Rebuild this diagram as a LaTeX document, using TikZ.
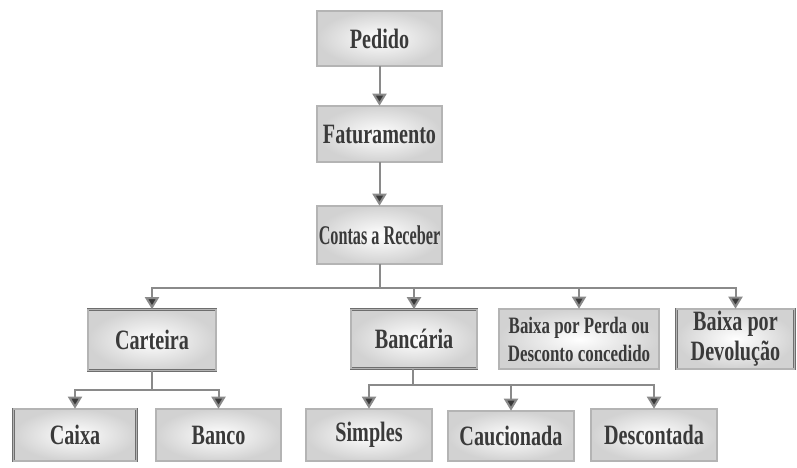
\documentclass[tikz,border=0pt]{standalone}
\usepackage{fontspec}
\setmainfont{Liberation Serif}[FakeStretch=0.72]
\newfontfamily\narrowfont{Liberation Serif}[FakeStretch=0.6]
\usetikzlibrary{arrows.meta,positioning}
\definecolor{frame}{HTML}{6E6E6E}
\definecolor{band}{HTML}{B4B4B4}
\definecolor{shade}{HTML}{D2D2D2}
\definecolor{ink}{HTML}{3A3A3A}
\definecolor{wire}{HTML}{8A8A8A}

\begin{document}
\begin{tikzpicture}[x=1pt,y=-1pt,
  box/.style={draw=frame,double=band,double distance=1.4pt,line width=.6pt,shading=radial,inner color=white,outer color=shade,text=ink,font=\bfseries\fontsize{28}{30}\selectfont,align=center,inner sep=0pt},
  link/.style={wire,line width=2pt},
  arr/.style={link,-{Triangle[width=14pt,length=12pt,fill=ink]}}]
\useasboundingbox (0,0) rectangle (797,467);
% first column
\node[box,minimum width=125pt,minimum height=55pt] (pedido) at (379.5,38.5){Pedido};
\node[box,minimum width=125pt,minimum height=56pt] (fatura) at (379.5,134){Faturamento};
\node[box,minimum width=125pt,minimum height=58pt,font=\narrowfont\bfseries\fontsize{27}{30}\selectfont] (contas) at (379.5,235){Contas a Receber};
% second row
\node[box,minimum width=128pt,minimum height=61pt] (carteira) at (152,340){Carteira};
\node[box,minimum width=126pt,minimum height=59pt] (bancaria) at (414,339){Bancária};
\node[box,minimum width=160pt,minimum height=60pt,font=\bfseries\fontsize{23.5}{28}\selectfont] (perda) at (579,339){Baixa por Perda ou\\Desconto concedido};
\node[box,minimum width=118pt,minimum height=60pt,font=\bfseries\fontsize{28}{30}\selectfont] (devol) at (735.5,339){Baixa por\\Devolução};
% third row
\node[box,minimum width=123pt,minimum height=52pt] (caixa) at (75,435){Caixa};
\node[box,minimum width=125pt,minimum height=52pt] (banco) at (218.5,435){Banco};
\node[box,minimum width=126pt,minimum height=52pt] (simples) at (369,435){Simples};
\node[box,minimum width=126pt,minimum height=50pt] (caucao) at (511,436){Caucionada};
\node[box,minimum width=126pt,minimum height=52pt] (descont) at (654,435){Descontada};
% connectors
\coordinate (j1) at (379.5,288);\coordinate (j2) at (152,390);\coordinate (j3) at (413,385);
\draw[arr] (pedido) -- (fatura);\draw[arr] (fatura) -- (contas);
\draw[link] (contas) -- (j1);\draw[arr] (j1) -| (carteira);\draw[arr] (j1) -| (bancaria);\draw[arr] (j1) -| (perda);\draw[arr] (j1) -| (devol);
\draw[link] (carteira) -- (j2);\draw[arr] (j2) -| (caixa);\draw[arr] (j2) -| (banco);
\draw[link] (bancaria.south -| j3) -- (j3);\draw[arr] (j3) -| (simples);\draw[arr] (j3) -| (caucao);\draw[arr] (j3) -| (descont);
\end{tikzpicture}
\end{document}
